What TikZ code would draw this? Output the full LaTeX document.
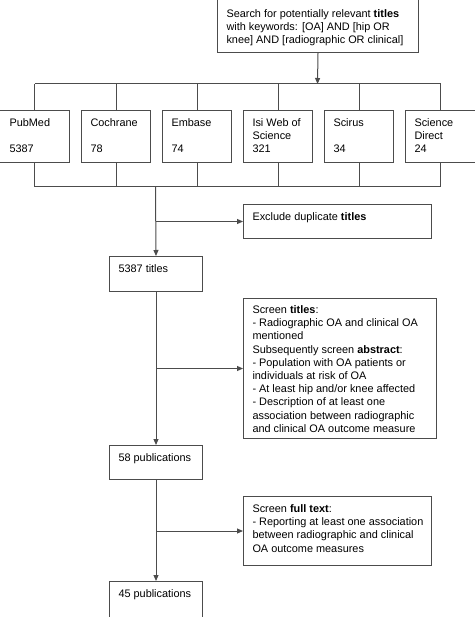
\documentclass[tikz,border=0pt]{standalone}
\usepackage{fontspec}
\setmainfont{Liberation Sans}
\usetikzlibrary{arrows.meta}
\definecolor{lc}{gray}{0.3}
% #1 width, #2 height, #3 left inset, #4 first baseline offset, #5 text
\newcommand\bt[5]{\parbox[t][#2pt][t]{#1pt}{\raggedright\leftskip=#3pt\relax\rule{0pt}{#4pt}#5}}
\begin{document}
\begin{tikzpicture}[x=1pt,y=-1pt,
  box/.style={draw=lc,line width=1pt,inner sep=0pt,anchor=north west,
    font=\fontsize{10.9}{13.2}\selectfont},
  conn/.style={draw=lc,line width=1pt},
  arr/.style={conn,-{Triangle[length=6pt,width=5pt]}}]
\useasboundingbox (0,0) rectangle (474,617);

\node[box] (top) at (217,-2) {\bt{201}{54}{9}{19}{Search for potentially relevant \textbf{titles}\\with keywords: [OA] AND [hip OR\\knee] AND [radiographic OR clinical]}};

\node[box] (pub) at (-1,110) {\bt{70}{52}{10}{16}{PubMed\\\mbox{}\\5387}};
\node[box] (coc) at (81,110) {\bt{69}{52}{9}{16}{Cochrane\\\mbox{}\\78}};
\node[box] (emb) at (162,110) {\bt{69}{52}{9}{16}{Embase\\\mbox{}\\74}};
\node[box] (isi) at (243,110) {\bt{69}{52}{9}{16}{Isi Web of\\Science\\321}};
\node[box] (sci) at (324,110) {\bt{69}{52}{9}{16}{Scirus\\\mbox{}\\34}};
\node[box] (sd) at (405,110) {\bt{70}{52}{9}{16}{Science\\Direct\\24}};

\node[box] (t1) at (109,256) {\bt{93}{35}{9}{16}{5387 titles}};
\node[box] (ex) at (243,204) {\bt{188}{34}{9}{16}{Exclude duplicate \textbf{titles}}};
\node[box] (sc) at (243,298) {\bt{193}{140}{9}{15}{Screen \textbf{titles}:\\- Radiographic OA and clinical OA\\mentioned\\Subsequently screen \textbf{abstract}:\\- Population with OA patients or\\individuals at risk of OA\\- At least hip and/or knee affected\\- Description of at least one\\association between radiographic\\and clinical OA outcome measure}};
\node[box] (p58) at (109,445) {\bt{93}{34}{9}{16}{58 publications}};
\node[box] (ft) at (243,496) {\bt{188}{69}{9}{16}{Screen \textbf{full text}:\\- Reporting at least one association\\between radiographic and clinical\\OA outcome measures}};
\node[box] (p45) at (109,581) {\bt{93}{50}{9}{16}{45 publications}};

\coordinate (tj) at (317.5,84);
\coordinate (bj) at (155.5,187);

\draw[arr] (top.south) -- (tj);
\draw[conn] (pub.north |- tj) -- (sd.north |- tj);
\draw[conn] (pub.south |- bj) -- (sd.south |- bj);
\foreach \n in {pub,coc,emb,isi,sci,sd}{
  \draw[conn] (\n.north) -- (\n.north |- tj);
  \draw[conn] (\n.south) -- (\n.south |- bj);
}
\draw[arr] (bj) -- (t1.north);
\draw[arr] (t1.north |- ex.west) -- (ex.west);
\draw[arr] (t1.south) -- (p58.north);
\draw[arr] (t1.south |- sc.west) -- (sc.west);
\draw[arr] (p58.south) -- (p45.north);
\draw[arr] (p58.south |- ft.west) -- (ft.west);
\end{tikzpicture}
\end{document}
